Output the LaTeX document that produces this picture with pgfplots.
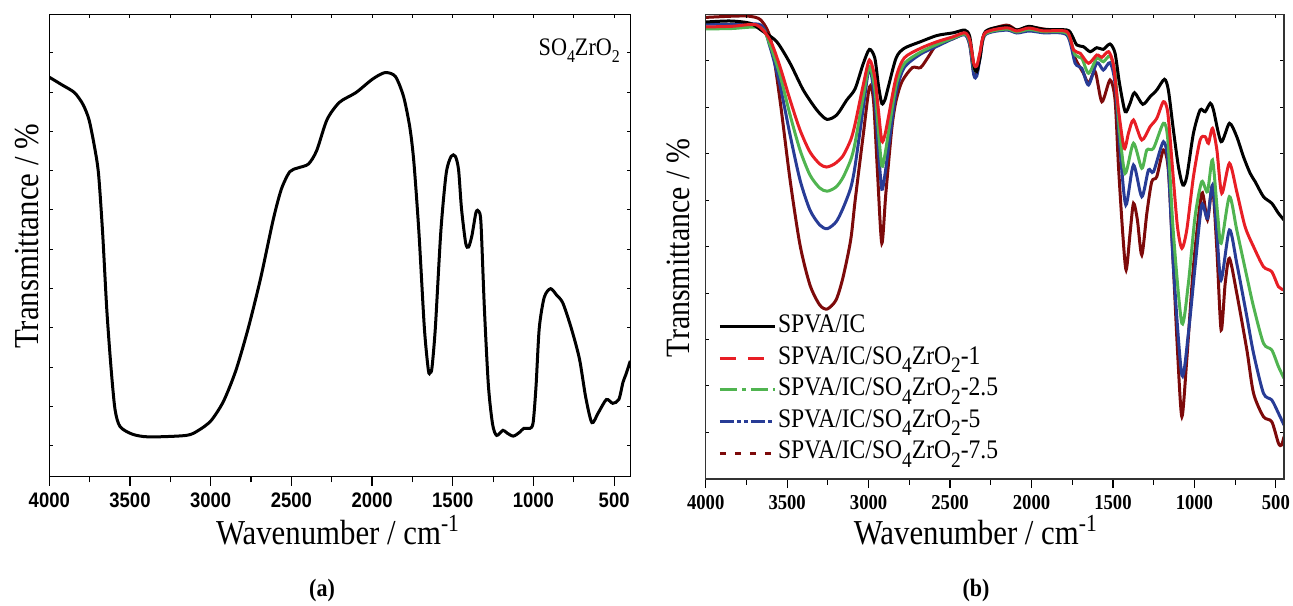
\documentclass[border=0pt]{standalone}
\usepackage{fontspec}
\setmainfont{Liberation Serif}[FakeStretch=0.88]
\newfontfamily\sansbf{Liberation Sans}[FakeStretch=0.88]
\usepackage{pgfplots}
\pgfplotsset{compat=1.18}
\definecolor{cred}{RGB}{232,30,37}
\definecolor{cgreen}{RGB}{80,180,80}
\definecolor{cblue}{RGB}{40,60,150}
\definecolor{cdred}{RGB}{125,10,10}
\newcommand{\lsb}[1]{\raisebox{-4.2pt}{\fontsize{11pt}{11pt}\selectfont #1}}
\newcommand{\asb}[1]{\raisebox{-3.4pt}{\fontsize{9pt}{9pt}\selectfont #1}}
\pgfplotsset{
  base/.style={scale only axis, x dir=reverse, y dir=reverse,
    xtick={500,1000,...,4000}, minor x tick num=1,
    xtick pos=bottom, ytick=\empty, tick align=outside,
    major tick length=4.5pt, minor tick length=2.8pt,
    axis line style={line width=0.6pt}, every tick/.style={line width=0.6pt},
    /pgf/number format/1000 sep={}, /pgf/number format/assume math mode=true},
  over/.style={scale only axis, x dir=reverse, y dir=reverse,
    xtick={500,1000,...,4000}, minor x tick num=1,
    xtick pos=top, ytick pos=both, tick align=inside,
    major tick length=1.8pt, minor tick length=1.8pt,
    xticklabels={}, yticklabels={},
    axis line style={line width=0.6pt}, every tick/.style={line width=0.5pt}},
  curve/.style={line width=1.5pt, smooth, tension=0.45}
}
\begin{document}
\begin{tikzpicture}
\path[use as bounding box] (0,0) rectangle (646.5pt,302.5pt);
% ---------------- (a) ----------------
\begin{axis}[base, at={(24.65pt,64.15pt)}, anchor=south west,
  width=290.5pt, height=231pt, xmin=400, xmax=4000, ymin=14.7, ymax=476.7,
  xticklabel style={font=\sansbf\bfseries\fontsize{10.5}{12}\selectfont}]
\addplot[black, curve] coordinates {
(4000,77.2)(3921,84.9)(3844,92.6)(3792,104.2)(3754,119.6)(3720,146.7)(3695,173.7)
(3670,231.6)(3644,308.8)(3618,366.7)(3593,409.1)(3562,426.5)(3485,434.2)(3382,436.9)
(3151,435.4)(3075,430.3)(2998,420.7)(2921,401.4)(2844,370.5)(2767,328)(2690,277.9)
(2613,220)(2562,189.1)(2510,171.7)(2459,167.9)(2394,164)(2343,150.5)(2279,119.6)
(2202,102.3)(2100,92.6)(1997,79.1)(1920,72.6)(1856,76.4)(1805,96.5)(1766,127.4)
(1741,162.1)(1710,231.6)(1676,328)(1651,370.5)(1640,372.4)(1629,368)(1608,328)
(1574,231.6)(1541,173.7)(1510,156.3)(1484,156.3)(1464,169.8)(1446,208.4)(1420,243.1)
(1402,247)(1381,235.4)(1356,212.3)(1338,211.5)(1325,223.9)(1304,308.8)(1279,386)
(1253,424.5)(1228,435.4)(1189,430.3)(1164,433)(1125,436.1)(1086,432.3)(1060,428.4)
(1022,428.4)(1002,422.6)(984,386)(964,328)(933,297.2)(894,288.7)(856,295.2)(818,303)
(766,328)(715,358.9)(676,397.5)(638,422.6)(599,413)(548,399.5)(509,403.3)(471,399.5)
(445,382.1)(427,374.4)(400,360.9)};
\end{axis}
\begin{axis}[over, at={(24.65pt,64.15pt)}, anchor=south west,
  width=290.5pt, height=231pt, xmin=400, xmax=4000, ymin=14.7, ymax=476.7,
  ytick={52.7,92,131.3,170.6,209.9,249.2,288.5,327.8,367.1,406.4,445.7}]
\end{axis}
% ---------------- (b) ----------------
\begin{axis}[base, at={(352.85pt,63pt)}, anchor=south west,
  width=289.15pt, height=232.15pt, xmin=450, xmax=4000, ymin=14.7, ymax=479,
  xticklabel style={font=\bfseries\fontsize{10.6}{12}\selectfont},
  legend style={at={(0.011,0.192)}, anchor=west, draw=none, fill=none,
    font=\fontsize{13.4}{16}\selectfont,
    nodes={text height=10pt, text depth=4.2pt, inner sep=0.8pt}, row sep=0pt},
  legend cell align=left,
  legend image code/.code={\draw[#1] (0pt,0pt) -- (27.5pt,0pt);}]
\addlegendimage{black, line width=1.5pt}
\addlegendentry{SPVA/IC}
\addlegendimage{cred, line width=1.5pt, dash pattern=on 8pt off 6pt}
\addlegendentry{SPVA/IC/SO\lsb{4}ZrO\lsb{2}-1}
\addlegendimage{cgreen, line width=1.5pt, dash pattern=on 8.5pt off 2.5pt on 2pt off 2.5pt}
\addlegendentry{SPVA/IC/SO\lsb{4}ZrO\lsb{2}-2.5}
\addlegendimage{cblue, line width=1.5pt, dash pattern=on 7pt off 1.5pt on 2pt off 1.5pt on 2pt off 1.5pt}
\addlegendentry{SPVA/IC/SO\lsb{4}ZrO\lsb{2}-5}
\addlegendimage{cdred, line width=1.5pt, dash pattern=on 3pt off 4.5pt}
\addlegendentry{SPVA/IC/SO\lsb{4}ZrO\lsb{2}-7.5}
% SPVA/IC/SO4ZrO2-7.5
\addplot[cdred, curve, forget plot] coordinates {
(4000,17.4)(3837,16.2)(3736,16.2)(3661,20.1)(3600,40)(3544,100)(3482,180)(3421,245)
(3360,285)(3300,305)(3254,309)(3200,300)(3158,278)(3110,240)(3083,201)(3033,135)
(2995,87)(2970,100.4)(2945,173.8)(2919,243.3)(2894,193.1)(2857,127.5)(2831,100.4)
(2794,81.1)(2731,67.6)(2681,67.6)(2630,56)(2580,44.4)(2480,38.6)(2409,34)(2379,45)
(2354,73.4)(2336,74)(2316,56)(2284,32.8)(2153,25.1)(2090,30)(2015,27)(1927,29)
(1783,33.3)(1732,58.3)(1681,73.3)(1650,83.3)(1609,71.7)(1568,101.7)(1518,80)(1487,100)
(1466,166.7)(1440,233.3)(1419,270)(1395,233.3)(1374,203.3)(1350,220)(1323,255)
(1292,213.3)(1262,181.7)(1231,176.7)(1190,150)(1160,170)(1129,266.7)(1104,350)
(1077,416.7)(1047,360)(1006,266.7)(955,193.3)(920,220)(889,186.7)(862,250)(836,330)
(811,283.3)(785,258.3)(740,293.3)(678,350)(637,393.3)(576,416.7)(525,421.7)(484,443.3)
(465,445)(450,436.7)};
% SPVA/IC/SO4ZrO2-5
\addplot[cblue, curve, forget plot] coordinates {
(4000,24)(3837,24.5)(3661,25.1)(3605,47)(3544,85)(3482,135)(3421,180)(3360,210)
(3300,225)(3254,228.7)(3200,222)(3158,208.6)(3110,188)(3083,166)(3033,108.1)(2995,67.6)
(2962,100.4)(2940,150)(2919,189.3)(2900,175)(2877,146.8)(2831,92.7)(2781,67.6)
(2681,54.1)(2580,46.3)(2480,38.6)(2409,34.8)(2379,45)(2354,75.3)(2336,76)(2316,58)
(2284,34.8)(2153,30.1)(2090,33)(2015,31)(1927,32.8)(1783,35)(1732,63.3)(1691,68.3)
(1650,85)(1599,62.7)(1559,70)(1518,62.7)(1487,83.3)(1456,150)(1421,205)(1374,165)
(1323,196.7)(1282,170)(1251,171.7)(1190,141.7)(1160,166.7)(1129,266.7)(1077,375)
(1037,333.3)(996,266.7)(955,205)(920,218.3)(889,185)(862,233.3)(836,280)(785,230)
(740,263.3)(678,316.7)(637,353.3)(576,393.3)(525,400)(484,413.3)(450,425)};
% SPVA/IC/SO4ZrO2-2.5
\addplot[cgreen, curve, forget plot] coordinates {
(4000,29)(3837,28.5)(3661,27.8)(3605,45)(3544,75)(3482,115)(3421,150)(3360,175)
(3300,188)(3254,191.2)(3200,187)(3158,177.7)(3110,160)(3083,142.9)(3033,96.6)(2995,66.4)
(2962,88.8)(2940,130)(2919,166)(2900,155)(2877,131.3)(2831,85)(2781,63.7)(2681,52.1)
(2580,44.4)(2480,37.9)(2409,34)(2379,42)(2354,67.6)(2336,70)(2316,55)(2284,34)
(2153,29)(2090,32)(2015,29.5)(1927,31.7)(1783,33.3)(1732,55)(1691,58.3)(1650,73.3)
(1599,58.3)(1559,61.7)(1518,56)(1487,73.3)(1460,130)(1425,173.3)(1374,143.3)
(1323,168.3)(1292,150)(1251,148.3)(1190,123.3)(1163,140)(1129,233.3)(1077,323.3)
(1037,283.3)(996,216.7)(955,181.7)(920,191.7)(889,160)(858,213.3)(836,243.3)
(785,196.7)(740,230)(678,276.7)(637,306.7)(576,343.3)(525,350)(484,366.7)(450,378.3)};
% SPVA/IC
\addplot[black, curve, forget plot] coordinates {
(4000,22)(3850,21)(3728,23.3)(3646,31.7)(3564,41.7)(3482,63.3)(3401,90)(3318,110)
(3257,119.3)(3196,115)(3134,100)(3083,88.8)(3033,63.7)(2995,49.4)(2962,57.9)(2940,85)
(2919,103.5)(2900,100)(2882,88.8)(2831,57.9)(2781,48.3)(2681,41.7)(2580,35.5)
(2480,32.8)(2409,30.1)(2379,36.7)(2354,65.7)(2336,71.5)(2316,57.9)(2284,31.7)
(2153,26.3)(2090,30.1)(2015,26.3)(1927,29.4)(1783,30)(1753,35)(1722,45)(1681,46.7)
(1640,51.7)(1599,47.7)(1559,49.3)(1518,44)(1487,53.3)(1460,83.3)(1425,111.7)
(1395,103.3)(1368,92.7)(1317,104.3)(1272,96.7)(1231,90)(1184,79.3)(1160,90)(1129,130)
(1098,166.7)(1071,185)(1047,176.7)(1006,133.3)(965,110)(934,111.7)(903,103.3)(883,110)
(836,141.7)(785,123.3)(740,136.7)(699,156.7)(658,173.3)(627,181.7)(576,196.7)
(525,203.3)(484,213.3)(450,220)};
% SPVA/IC/SO4ZrO2-1
\addplot[cred, curve, forget plot] coordinates {
(4000,27)(3837,26.3)(3687,25)(3605,40)(3544,66.7)(3482,100)(3421,130)(3360,152)
(3300,164)(3259,167)(3210,164)(3158,156)(3110,140)(3083,124)(3033,85)(2995,60)
(2962,77.2)(2940,110)(2919,141)(2900,135)(2877,116)(2831,77.2)(2781,57.9)(2681,48.3)
(2580,41.7)(2480,36.7)(2409,32.8)(2379,40)(2354,63.7)(2336,66)(2316,52)(2284,32.8)
(2153,27.8)(2090,31)(2015,28)(1927,30.9)(1783,31.7)(1742,50)(1701,53.3)(1650,63.3)
(1599,55)(1568,57.3)(1527,51.7)(1497,65)(1466,110)(1431,148.3)(1405,133.3)(1374,120)
(1323,140)(1272,126.7)(1231,118.3)(1190,101.7)(1163,113.3)(1132,173.3)(1104,226.7)
(1077,248.3)(1047,230)(1006,176.7)(965,140)(934,136.7)(914,143.3)(889,128.3)(862,150)
(832,193.3)(785,163.3)(740,191.7)(689,226.7)(637,246.7)(576,266.7)(525,271.7)
(484,286.7)(450,290)};
\end{axis}
\begin{axis}[over, at={(352.85pt,63pt)}, anchor=south west,
  width=289.15pt, height=232.15pt, xmin=450, xmax=4000, ymin=14.7, ymax=479,
  ytick={61,107.4,153.8,200.2,246.6,293,339.4,385.8,432.2},
  axis line style={line width=0.6pt, black!80}]
\end{axis}
% ---------------- labels ----------------
\node[anchor=base, font=\fontsize{17.5}{20}\selectfont] at (169pt,30.5pt) {Wavenumber / cm\textsuperscript{-1}};
\node[anchor=base, font=\fontsize{17.5}{20}\selectfont] at (487.9pt,30.3pt) {Wavenumber / cm\textsuperscript{-1}};
\node[anchor=base, rotate=90, font=\fontsize{17.5}{20}\selectfont] at (19pt,184.3pt) {Transmittance / \%};
\node[anchor=base, rotate=90, font=\fontsize{17}{20}\selectfont] at (344.5pt,178.5pt) {Transmittance / \%};
\node[anchor=base west, font=\fontsize{12.6}{14}\selectfont, inner sep=0pt] at (269.15pt,274.65pt) {SO\asb{4}ZrO\asb{2}};
\node[font=\bfseries\fontsize{12.5}{14}\selectfont] at (161pt,7.5pt) {(a)};
\node[font=\bfseries\fontsize{12.5}{14}\selectfont] at (488pt,7.5pt) {(b)};
\end{tikzpicture}
\end{document}
